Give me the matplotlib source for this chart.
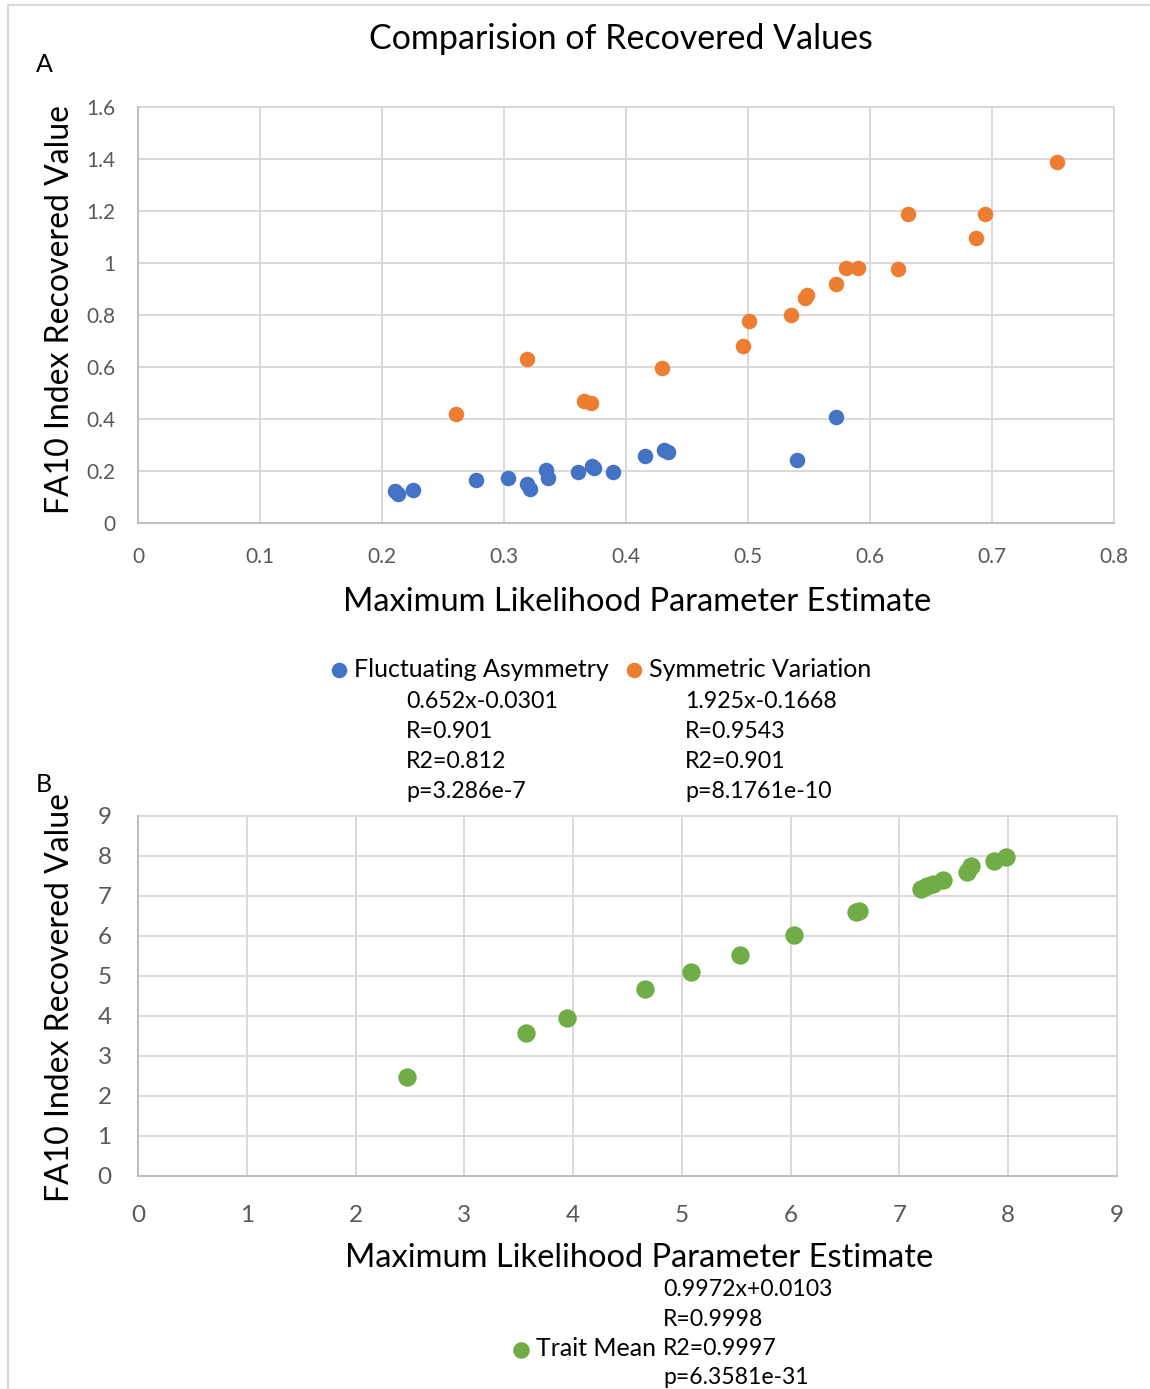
import matplotlib
matplotlib.use("Agg")
import matplotlib.pyplot as plt
from matplotlib.lines import Line2D

plt.rcParams['font.family'] = ['Lato', 'DejaVu Sans']

# ---- Data: panel A ----
fa_x = [0.2105, 0.213, 0.2254, 0.2769, 0.303, 0.319, 0.321, 0.3348, 0.336, 0.3608,
        0.3725, 0.3737, 0.389, 0.4155, 0.4313, 0.4345, 0.540, 0.5723]
fa_y = [0.124, 0.113, 0.128, 0.167, 0.174, 0.151, 0.132, 0.205, 0.172, 0.197,
        0.218, 0.210, 0.197, 0.256, 0.279, 0.272, 0.242, 0.408]

sv_x = [0.2605, 0.3188, 0.3652, 0.3716, 0.4297, 0.4958, 0.501, 0.5353, 0.5467, 0.5486,
        0.5723, 0.580, 0.5898, 0.6232, 0.6313, 0.6867, 0.6945, 0.7532]
sv_y = [0.419, 0.631, 0.471, 0.460, 0.596, 0.679, 0.775, 0.799, 0.865, 0.878,
        0.921, 0.980, 0.980, 0.975, 1.189, 1.097, 1.187, 1.390]

# ---- Data: panel B ----
tm_x = [2.470, 3.564, 3.945, 4.665, 5.085, 5.538, 6.033, 6.600, 6.625, 7.196,
        7.253, 7.310, 7.405, 7.623, 7.661, 7.867, 7.977]
tm_y = [2.484, 3.574, 3.940, 4.672, 5.088, 5.529, 6.028, 6.600, 6.615, 7.176,
        7.243, 7.293, 7.409, 7.609, 7.759, 7.867, 7.975]

a_xticks = [0, 0.1, 0.2, 0.3, 0.4, 0.5, 0.6, 0.7, 0.8]
a_xlabels = ['0', '0.1', '0.2', '0.3', '0.4', '0.5', '0.6', '0.7', '0.8']
a_yticks = [0, 0.2, 0.4, 0.6, 0.8, 1.0, 1.2, 1.4, 1.6]
a_ylabels = ['0', '0.2', '0.4', '0.6', '0.8', '1', '1.2', '1.4', '1.6']
b_ticks = list(range(10))
b_labels = [str(t) for t in b_ticks]

fa_stats = ['0.652x-0.0301', 'R=0.901', 'R2=0.812', 'p=3.286e-7']
sv_stats = ['1.925x-0.1668', 'R=0.9543', 'R2=0.901', 'p=8.1761e-10']
tm_stats = ['0.9972x+0.0103', 'R=0.9998', 'R2=0.9997', 'p=6.3581e-31']

BLUE = '#4472C4'
ORANGE = '#ED7D31'
GREEN = '#70AD47'
GRID = '#D9D9D9'
AXIS = '#BFBFBF'
TICK = '#595959'

W, H = 1150, 1389
fig = plt.figure(figsize=(W / 100, H / 100), dpi=100)


def fx(x):
    return x / W


def fy(y):
    return 1 - y / H


def ftext(x, y, s, **kw):
    fig.text(fx(x), fy(y), s, **kw)


def style(ax, xpad, ypad, fs):
    for sp in ['top', 'right']:
        ax.spines[sp].set_visible(False)
    for sp in ['left', 'bottom']:
        ax.spines[sp].set_color(AXIS)
        ax.spines[sp].set_linewidth(1.5)
    ax.grid(True, color=GRID, linewidth=1.4)
    ax.set_axisbelow(True)
    ax.tick_params(axis='both', length=0, colors=TICK, labelsize=fs)
    ax.tick_params(axis='x', pad=xpad)
    ax.tick_params(axis='y', pad=ypad)


# outer border lines
fig.add_artist(Line2D([fx(8), fx(8)], [fy(5), fy(1389)], color=GRID, lw=1.5))
fig.add_artist(Line2D([fx(8), fx(1150)], [fy(5), fy(5)], color=GRID, lw=1.5))

# ---- Panel A ----
axA = fig.add_axes([fx(138), fy(523), (1114 - 138) / W, (523 - 107) / H])
axA.scatter(fa_x, fa_y, s=125, color=BLUE, linewidths=0, zorder=3, label='Fluctuating Asymmetry')
axA.scatter(sv_x, sv_y, s=125, color=ORANGE, linewidths=0, zorder=3, label='Symmetric Variation')
axA.set_xlim(0, 0.8)
axA.set_ylim(0, 1.6)
axA.set_xticks(a_xticks)
axA.set_xticklabels(a_xlabels)
axA.set_yticks(a_yticks)
axA.set_yticklabels(a_ylabels)
style(axA, 17, 16, 15)
for gl in axA.get_xgridlines() + axA.get_ygridlines():
    gl.set_clip_on(False)

ftext(621, 39, 'Comparision of Recovered Values', fontsize=24.5, ha='center', va='center')
ftext(44, 64, 'A', fontsize=18, ha='center', va='center')
ftext(637, 602, 'Maximum Likelihood Parameter Estimate', fontsize=23.5, ha='center', va='center')
ftext(60, 310, 'FA10 Index Recovered Value', fontsize=23, ha='center', va='center', rotation=90)

h, l = axA.get_legend_handles_labels()
fig.legend(h, l, loc='center', bbox_to_anchor=(fx(599), fy(669)), ncol=2, frameon=False,
           fontsize=18, handletextpad=0.1, columnspacing=0.5, markerscale=1.0,
           borderpad=0, handlelength=1.0)

for i, s in enumerate(fa_stats):
    ftext(406, 702 + 30 * i, s, fontsize=16.7, ha='left', va='center')
for i, s in enumerate(sv_stats):
    ftext(685, 702 + 30 * i, s, fontsize=16.7, ha='left', va='center')

# ---- Panel B ----
axB = fig.add_axes([fx(138), fy(1176), (1117 - 138) / W, (1176 - 816) / H])
axB.scatter(tm_x, tm_y, s=175, color=GREEN, linewidths=0, zorder=3, label='Trait Mean')
axB.set_xlim(0, 9)
axB.set_ylim(0, 9)
axB.set_xticks(b_ticks)
axB.set_xticklabels(b_labels)
axB.set_yticks(b_ticks)
axB.set_yticklabels(b_labels)
style(axB, 21, 19, 17.5)
for gl in axB.get_xgridlines() + axB.get_ygridlines():
    gl.set_clip_on(False)

ftext(44, 785, 'B', fontsize=18, ha='center', va='center')
ftext(639, 1258, 'Maximum Likelihood Parameter Estimate', fontsize=23.5, ha='center', va='center')
ftext(60, 998, 'FA10 Index Recovered Value', fontsize=23, ha='center', va='center', rotation=90)

h, l = axB.get_legend_handles_labels()
fig.legend(h, l, loc='center right', bbox_to_anchor=(fx(668), fy(1349)), frameon=False,
           fontsize=18, handletextpad=0.1, markerscale=0.9, borderpad=0, handlelength=1.0)
for i, s in enumerate(tm_stats):
    ftext(663, 1290 + 29.3 * i, s, fontsize=16.6, ha='left', va='center')

fig.savefig('out.png', dpi=100)
